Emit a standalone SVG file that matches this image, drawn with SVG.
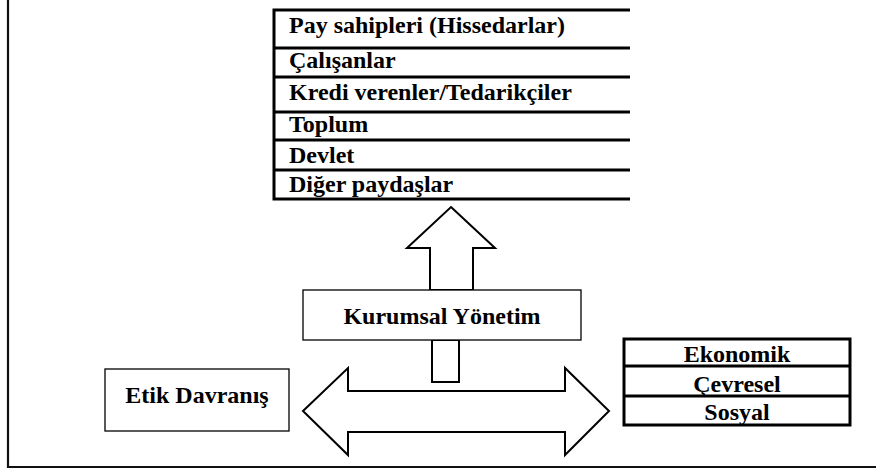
<svg xmlns="http://www.w3.org/2000/svg" width="876" height="473" viewBox="0 0 876 473">
<style>
.t{font-family:'Liberation Serif','Times New Roman',Tinos,'DejaVu Serif',serif;font-weight:700;font-size:24px;fill:#000}
.c{text-anchor:middle}
.thick{fill:none;stroke:#000;stroke-width:3}
.thin{fill:#fff;stroke:#000;stroke-width:1.3}
.arrow{fill:#fff;stroke:#000;stroke-width:2;stroke-linejoin:miter}
</style>
<rect width="876" height="473" fill="#fff"/>
<g id="frame">
<path d="M8,0 V467 H876" fill="none" stroke="#111" stroke-width="2.2"/>
</g>
<g id="stakeholders" class="t">
<path class="thick" d="M630,10 H274 V199 H630 M274,48 H630 M274,77 H630 M274,112 H630 M274,140 H630 M274,170 H630"/>
<text x="289" y="33">Pay sahipleri (Hissedarlar)</text>
<text x="289" y="68">Çalışanlar</text>
<text x="289" y="100">Kredi verenler/Tedarikçiler</text>
<text x="289" y="132">Toplum</text>
<text x="289" y="163">Devlet</text>
<text x="289" y="192">Diğer paydaşlar</text>
</g>
<g id="connectors">
<polygon class="arrow" points="451,207 495,248 473,248 473,290 430,290 430,248 407,248"/>
<rect class="arrow" x="432" y="340" width="27" height="42"/>
<polygon class="arrow" points="303,411 348,368 348,391 565,391 565,368 609,411 565,455 565,432 348,432 348,455"/>
</g>
<g id="kurumsal" class="t">
<rect class="thin" x="303" y="290" width="278" height="50"/>
<text class="c" x="442" y="324">Kurumsal Yönetim</text>
</g>
<g id="etik" class="t">
<rect class="thin" x="105" y="369" width="184" height="62"/>
<text class="c" x="197" y="403">Etik Davranış</text>
</g>
<g id="dimensions" class="t">
<path class="thick" d="M624,339 H850 V425 H624 Z M624,366 H850 M624,396 H850"/>
<text class="c" x="737" y="362">Ekonomik</text>
<text class="c" x="737" y="392">Çevresel</text>
<text class="c" x="737" y="420">Sosyal</text>
</g>
</svg>
